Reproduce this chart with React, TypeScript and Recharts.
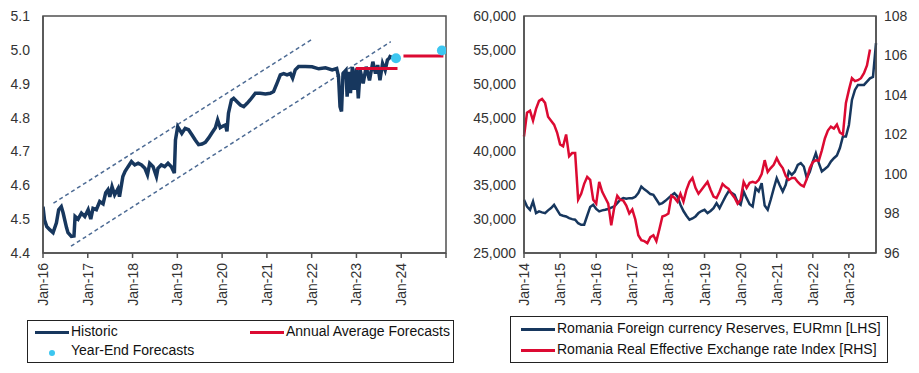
import { ComposedChart, Line, XAxis, YAxis, ReferenceArea } from "recharts";

const FONT = '"Liberation Sans", Arial, sans-serif';
const NAVY = "#17375e";
const RED = "#dc0a32";
const CYAN = "#3cc6f0";
const AXIS = "#505050";

// left chart: EUR/RON, x = months since Jan-16
const histMonths = [
  0, 0.4, 1, 1.8, 2.7, 3.6, 4.2, 4.9, 5.4, 6.3, 6.7, 7.6, 8.3, 8.6, 9.4, 10.3, 11.2,
  12.1, 12.8, 13.4, 14.3, 15.2, 16.1, 16.8, 17.4, 17.9, 18.5, 19.2, 20.1, 20.5, 21.4, 22, 22.8, 23.7,
  24.6, 25.5, 26.4, 27.3, 28, 28.6, 29.5, 30.4, 30.8, 31.7, 32.6, 33.5, 34.4, 35.2, 35.5,
  36.1, 37.2, 38.1, 39, 39.9, 40.8, 41.7, 42.6, 43.5, 44.4, 45.3, 46.2, 46.8, 47.5,
  48.1, 48.9, 49.3, 49.7, 50.5, 51.1, 52, 52.9, 53.8, 54.7, 55.5, 56.9, 58.2, 59.6,
  60.9, 61.8, 62.7, 63.6, 64.5, 65.4, 66.3, 66.9, 67.6, 68.5, 70.3,
  72.1, 73.9, 75.7, 77.5, 78.7, 79.2, 79.6, 80, 80.4, 81.2, 81.5, 82, 82.4, 82.9, 83.4,
  84, 84.5, 85, 85.8, 86.6, 87.5, 88.4, 89.1, 89.7, 90.3, 91, 91.7, 92.3, 92.8, 93.2,
];
const histValues = [
  4.537, 4.498, 4.478, 4.469, 4.46, 4.489, 4.528, 4.537, 4.518, 4.475, 4.46, 4.449, 4.45, 4.508, 4.5, 4.518, 4.508,
  4.528, 4.5, 4.532, 4.528, 4.552, 4.545, 4.578, 4.587, 4.566, 4.596, 4.572, 4.59, 4.566, 4.626, 4.641, 4.655, 4.67,
  4.66, 4.665, 4.66, 4.65, 4.631, 4.665, 4.655, 4.626, 4.65, 4.66, 4.655, 4.665, 4.655, 4.636, 4.734,
  4.773, 4.753, 4.768, 4.764, 4.749, 4.734, 4.72, 4.722, 4.727, 4.74, 4.755, 4.77, 4.793, 4.77,
  4.774, 4.778, 4.759, 4.813, 4.852, 4.857, 4.847, 4.837, 4.832, 4.842, 4.852, 4.872, 4.872, 4.87,
  4.872, 4.877, 4.901, 4.926, 4.93, 4.926, 4.93, 4.916, 4.941, 4.951, 4.951,
  4.95, 4.944, 4.947, 4.941, 4.945, 4.921, 4.832, 4.818, 4.93, 4.94, 4.862, 4.935, 4.872, 4.95, 4.882,
  4.945, 4.857, 4.94, 4.901, 4.95, 4.91, 4.965, 4.93, 4.955, 4.91, 4.96, 4.94, 4.97, 4.975, 4.985,
];
const avgForecast2023 = [
  { m: 83.8, v: 4.945 },
  { m: 95, v: 4.945 },
];
const avgForecast2024 = [
  { m: 96.6, v: 4.982 },
  { m: 107.3, v: 4.982 },
];
const yearEndForecasts = [
  { m: 94.6, v: 4.975 },
  { m: 106.9, v: 4.998 },
];
const channelUpper = [
  { m: 2.8, v: 4.547 },
  { m: 72.5, v: 5.034 },
];
const channelLower = [
  { m: 7.5, v: 4.42 },
  { m: 93.2, v: 5.024 },
];
const leftTickLabels = ["Jan-16", "Jan-17", "Jan-18", "Jan-19", "Jan-20", "Jan-21", "Jan-22", "Jan-23", "Jan-24", ""];

// right chart: monthly from Jan-14
const reserves = [
  32860, 31870, 31380, 32610, 30890, 31140, 31000, 30890, 31300, 31630, 32120, 31380,
  30640, 30500, 30400, 30150, 30000, 29910, 29400, 29170, 29170, 30500, 31800, 32120,
  31500, 31140, 31300, 31380, 31500, 31700, 31870, 32370, 32860, 33100, 33000, 33100,
  33100, 33300, 33840, 34820, 34400, 34090, 33700, 33600, 32900, 32200, 32370, 32700,
  33100, 33500, 33840, 33350, 32120, 31200, 30500, 29910, 30100, 30400, 30900, 31200,
  31380, 30890, 31200, 31630, 32370, 31630, 32500, 33350, 34090, 33900, 33600, 32500,
  32120, 34090, 33100, 32200, 31870, 34580, 34090, 35310, 32000, 31380, 32860, 34500,
  36050, 35000, 34090, 35070, 37040, 36540, 37000, 38000, 38270, 37770, 36050, 37000,
  38500, 39740, 38270, 37040, 37400, 37770, 38500, 39000, 39400, 40500, 42200, 42200,
  43900, 47600, 49080, 49820, 49820, 49820, 50310, 50800, 51000, 56000,
];
const reer = [
  101.9, 103.1, 103.2, 102.7, 103.3, 103.7, 103.8, 103.6, 102.9, 102.7, 102.5, 102.1,
  101.5, 101.4, 102.0, 100.9, 101.06, 101.06, 98.7, 99.0, 99.5, 99.85, 99.7, 98.7,
  98.5, 99.6, 99.1, 98.8, 98.5, 97.4, 98.3, 98.9, 98.7, 98.65, 98.4, 98.0,
  98.2, 97.7, 96.9, 96.65, 96.6, 96.5, 96.8, 96.9, 96.6, 97.2, 97.85, 97.9,
  98.0, 98.9, 98.8, 98.6, 99.0, 98.6, 99.2, 99.6, 99.8, 99.3, 99.0, 99.2,
  99.4, 99.6, 99.2, 98.86, 98.78, 99.1, 99.5, 99.35, 99.25, 99.0, 98.8, 98.5,
  98.7, 99.6, 99.3, 99.55, 99.6, 99.55, 99.7, 100.0, 100.7, 100.1, 100.3, 100.47,
  100.8, 100.5, 100.3, 99.9, 99.7, 99.8, 99.8, 99.6, 99.45, 99.37, 99.75, 100.3,
  100.6, 100.7, 100.68, 101.2, 101.8, 102.2, 102.4, 102.3, 102.5, 102.1, 102.0, 103.6,
  104.26, 104.85, 104.7, 104.75, 104.85, 105.1, 105.5, 106.3,
];
const rightTickLabels = ["Jan-14", "Jan-15", "Jan-16", "Jan-17", "Jan-18", "Jan-19", "Jan-20", "Jan-21", "Jan-22", "Jan-23"];

const histData = histValues.map((v, i) => ({ m: histMonths[i], v }));
const rightRows = reserves.map((v, i) => ({ m: i, res: v, reer: reer[i] ?? null }));

function RotTick({ x, y, payload, labels }: any) {
  if (x == null || y == null) return null;
  const label = labels[Math.round(payload.value / 12)] ?? "";
  return (
    <g transform={`translate(${x},${y})`}>
      <text
        transform="rotate(-90)"
        x={-3}
        y={5}
        textAnchor="end"
        fill="#333"
        fontSize={14}
        fontFamily={FONT}
      >
        {label}
      </text>
    </g>
  );
}

const tickStyle = { fill: "#333", fontSize: 14, fontFamily: FONT };

function LegendLine({ color }: { color: string }) {
  return <span style={{ display: "inline-block", width: 34, height: 3, background: color, marginRight: 2, verticalAlign: "middle" }} />;
}

export default function App() {
  const leftTicks = [0, 12, 24, 36, 48, 60, 72, 84, 96, 108];
  const rightTicks = [0, 12, 24, 36, 48, 60, 72, 84, 96, 108];
  return (
    <div style={{ position: "absolute", left: 0, top: 0, width: 919, height: 373, background: "#fff", fontFamily: FONT }}>
      <div style={{ position: "absolute", left: 0, top: 0 }}>
        <ComposedChart width={460} height={320} margin={{ top: 16, right: 14, bottom: 7, left: 0 }}>
          <XAxis
            type="number"
            dataKey="m"
            domain={[0, 108]}
            ticks={leftTicks}
            interval={0}
            tick={<RotTick labels={leftTickLabels} />}
            tickSize={5}
            stroke={AXIS}
            strokeWidth={1.5}
            height={60}
            allowDataOverflow
          />
          <YAxis
            type="number"
            dataKey="v"
            domain={[4.4, 5.1]}
            ticks={[4.4, 4.5, 4.6, 4.7, 4.8, 4.9, 5.0, 5.1]}
            tickFormatter={(v: number) => v.toFixed(1)}
            interval={0}
            width={43}
            tickLine={false}
            tick={{ ...tickStyle, dx: -5 }}
            stroke={AXIS}
            strokeWidth={1.5}
            allowDataOverflow
          />
          <ReferenceArea x1={0} x2={108} y1={4.4} y2={5.1} fill="none" stroke={AXIS} strokeWidth={1.5} />
          <Line data={channelUpper} dataKey="v" stroke="#4d6b94" strokeWidth={1.5} strokeDasharray="4 3" dot={false} isAnimationActive={false} />
          <Line data={channelLower} dataKey="v" stroke="#4d6b94" strokeWidth={1.5} strokeDasharray="4 3" dot={false} isAnimationActive={false} />
          <Line data={histData} dataKey="v" stroke={NAVY} strokeWidth={3.5} dot={false} isAnimationActive={false} />
          <Line data={avgForecast2023} dataKey="v" stroke={RED} strokeWidth={3} dot={false} isAnimationActive={false} />
          <Line data={avgForecast2024} dataKey="v" stroke={RED} strokeWidth={3} dot={false} isAnimationActive={false} />
          <Line
            data={yearEndForecasts}
            dataKey="v"
            stroke="none"
            dot={{ r: 5, fill: CYAN, stroke: "none" }}
            isAnimationActive={false}
          />
        </ComposedChart>
      </div>
      <div
        style={{
          position: "absolute",
          left: 27,
          top: 320,
          width: 425,
          height: 41,
          border: "1.5px solid #222",
          fontSize: 14,
          color: "#111",
        }}
      >
        <div style={{ position: "absolute", left: 7, top: 2, whiteSpace: "nowrap" }}>
          <LegendLine color={NAVY} />
          Historic
        </div>
        <div style={{ position: "absolute", left: 222, top: 2, whiteSpace: "nowrap" }}>
          <LegendLine color={RED} />
          Annual Average Forecasts
        </div>
        <div style={{ position: "absolute", left: 7, top: 21, whiteSpace: "nowrap" }}>
          <span style={{ display: "inline-block", width: 34, marginRight: 2, textAlign: "center", verticalAlign: "middle" }}>
            <span style={{ display: "inline-block", width: 6, height: 6, borderRadius: 3, background: CYAN }} />
          </span>
          Year-End Forecasts
        </div>
      </div>

      <div style={{ position: "absolute", left: 460, top: 0 }}>
        <ComposedChart width={459} height={320} data={rightRows} margin={{ top: 16, right: 0, bottom: 7, left: 0 }}>
          <XAxis
            type="number"
            dataKey="m"
            domain={[0, 117]}
            ticks={rightTicks}
            interval={0}
            tick={<RotTick labels={rightTickLabels} />}
            tickSize={5}
            stroke={AXIS}
            strokeWidth={1.5}
            height={60}
          />
          <YAxis
            yAxisId="l"
            type="number"
            domain={[25000, 60000]}
            ticks={[25000, 30000, 35000, 40000, 45000, 50000, 55000, 60000]}
            tickFormatter={(v: number) => v.toLocaleString("en-US")}
            interval={0}
            width={64}
            tickLine={false}
            tick={tickStyle}
            stroke={AXIS}
            strokeWidth={1.5}
          />
          <YAxis
            yAxisId="r"
            orientation="right"
            type="number"
            domain={[96, 108]}
            ticks={[96, 98, 100, 102, 104, 106, 108]}
            interval={0}
            width={43}
            tickLine={false}
            tick={tickStyle}
            stroke={AXIS}
            strokeWidth={1.5}
          />
          <ReferenceArea yAxisId="l" x1={0} x2={117} y1={25000} y2={60000} fill="none" stroke={AXIS} strokeWidth={1.5} />
          <Line yAxisId="l" dataKey="res" stroke={NAVY} strokeWidth={2.5} dot={false} isAnimationActive={false} />
          <Line yAxisId="r" dataKey="reer" stroke={RED} strokeWidth={2.5} dot={false} isAnimationActive={false} connectNulls={false} />
        </ComposedChart>
      </div>
      <div
        style={{
          position: "absolute",
          left: 510,
          top: 316,
          width: 376,
          height: 45,
          border: "1.5px solid #222",
          fontSize: 14,
          color: "#111",
        }}
      >
        <div style={{ position: "absolute", left: 10, top: 3, whiteSpace: "nowrap" }}>
          <LegendLine color={NAVY} />
          Romania Foreign currency Reserves, EURmn [LHS]
        </div>
        <div style={{ position: "absolute", left: 10, top: 24, whiteSpace: "nowrap" }}>
          <LegendLine color={RED} />
          Romania Real Effective Exchange rate Index [RHS]
        </div>
      </div>
    </div>
  );
}
